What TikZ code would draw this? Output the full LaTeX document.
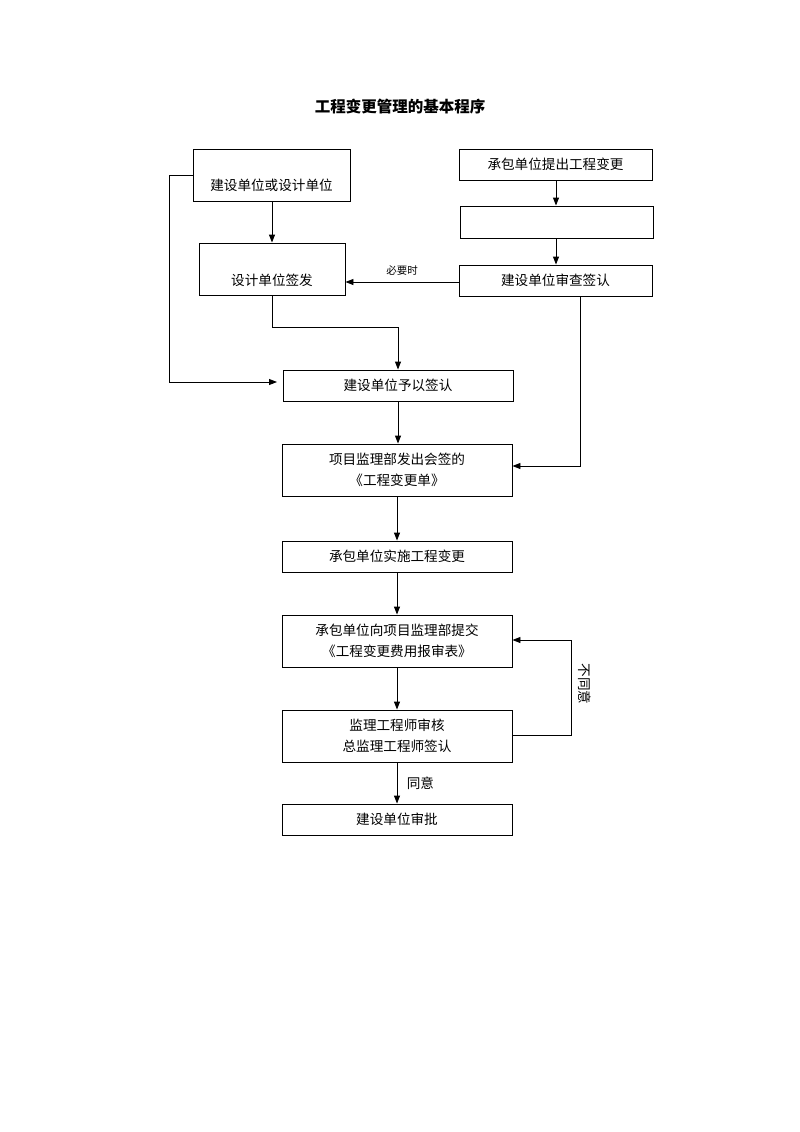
\documentclass[tikz,border=0pt]{standalone}
\usepackage{fontspec}
\setmainfont{Noto Sans CJK SC}
\usetikzlibrary{arrows.meta,calc}
\begin{document}
\begin{tikzpicture}[x=1pt,y=-1pt,
  box/.style={draw,line width=0.9pt,inner sep=0pt},
  txt/.style={font=\fontsize{13.6}{21}\selectfont,align=center},
  conn/.style={line width=0.9pt,-{Triangle[length=8pt,width=6pt]}},
  plain/.style={line width=0.9pt},
  lbl/.style={font=\fontsize{13.6}{16}\selectfont}]
\useasboundingbox (0,0) rectangle (800,1132);
\node[font=\fontsize{15.5}{18}\bfseries\selectfont] (title) at (400,107) {工程变更管理的基本程序};
% boxes
\node[box,minimum width=157pt,minimum height=52pt] (b1) at (271.5,175) {};
\node[txt] (t1) at (271.5,185) {建设单位或设计单位};
\node[box,minimum width=193pt,minimum height=31pt,txt] (b2) at (555.5,164.5) {承包单位提出工程变更};
\node[box,minimum width=193pt,minimum height=32pt] (b3) at (556.5,222) {};
\node[box,minimum width=193pt,minimum height=31pt,txt] (b4) at (555.5,280.5) {建设单位审查签认};
\node[box,minimum width=146pt,minimum height=52pt] (b5) at (272,269) {};
\node[txt] (t5) at (272,280) {设计单位签发};
\node[box,minimum width=230pt,minimum height=31pt,txt] (b6) at (398,385.5) {建设单位予以签认};
\node[box,minimum width=230pt,minimum height=52pt,txt] (b7) at (397,470) {项目监理部发出会签的\\《工程变更单》};
\node[box,minimum width=230pt,minimum height=31pt,txt] (b8) at (397,556.5) {承包单位实施工程变更};
\node[box,minimum width=230pt,minimum height=52pt,txt] (b9) at (397,641) {承包单位向项目监理部提交\\《工程变更费用报审表》};
\node[box,minimum width=230pt,minimum height=52pt,txt] (b10) at (397,736) {监理工程师审核\\总监理工程师签认};
\node[box,minimum width=230pt,minimum height=31pt,txt] (b11) at (397,819.5) {建设单位审批};
% connectors
\draw[conn] (b1.south -| 272,0) -- (b5.north -| 272,0);
\draw[conn] (b2.south -| 556,0) -- (b3.north -| 556,0);
\draw[conn] (b3.south -| 556,0) -- (b4.north -| 556,0);
\draw[conn] (b4.west |- 0,282) -- (b5.east |- 0,282) node[pos=0.5,above=3pt,lbl,font=\fontsize{10.5}{12}\selectfont] (l1) {必要时};
\coordinate (c1) at (272,327);
\coordinate (c2) at (398,327);
\draw[conn] (b5.south) -- (c1) -- (c2) -- (b6.north);
\coordinate (c3) at (169,175);
\coordinate (c4) at (169,382);
\coordinate (c5) at (277,382);
\draw[plain] (b1.west) -- (c3) -- (c4);
\draw[conn] (c4) -- (c5);
\coordinate (c6) at (580,296);
\coordinate (c7) at (580,466);
\draw[conn] (c6) -- (c7) -- (b7.east |- c7);
\draw[conn] (b6.south -| 398,0) -- (b7.north -| 398,0);
\draw[conn] (b7.south) -- (b8.north);
\draw[conn] (b8.south) -- (b9.north);
\draw[conn] (b9.south) -- (b10.north);
\draw[conn] (b10.south) -- (b11.north) node[pos=0.5,right=6pt,lbl] (l2) {同意};
\coordinate (c8) at (571,735);
\coordinate (c9) at (571,640);
\draw[conn] (b10.east |- c8) -- (c8) -- (c9) -- (b9.east |- c9);
\node[lbl,rotate=-90] (l3) at (585,684) {不同意};
\end{tikzpicture}
\end{document}
